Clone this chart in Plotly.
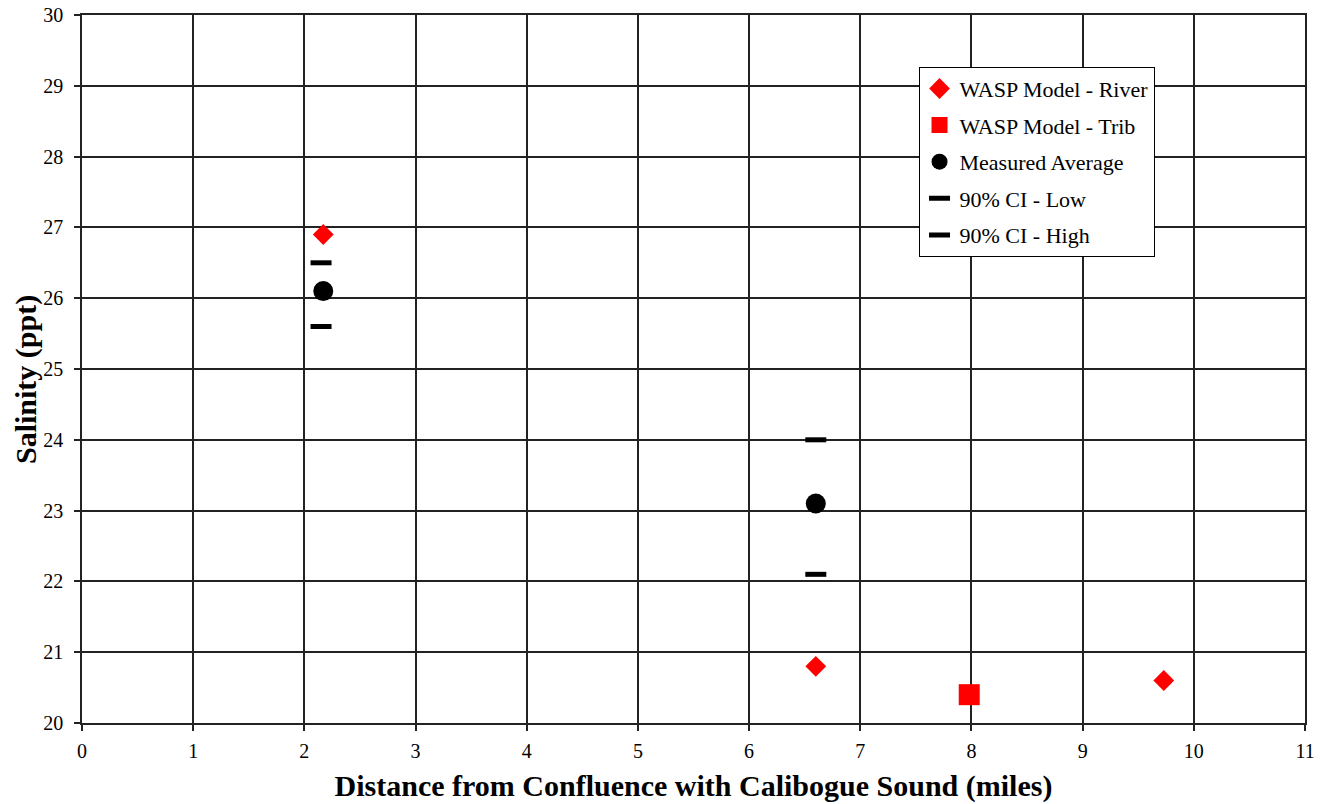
import plotly.graph_objects as go

# Data
river_x = [2.17, 6.6, 9.73]
river_y = [26.9, 20.8, 20.6]
trib_x = [7.98]
trib_y = [20.4]
meas_x = [2.17, 6.6]
meas_y = [26.1, 23.1]
ci_low_x = [2.15, 6.6]
ci_low_y = [25.6, 22.1]
ci_high_x = [2.15, 6.6]
ci_high_y = [26.5, 24.0]

FONT = "Liberation Serif"

fig = go.Figure()
fig.add_trace(go.Scatter(x=river_x, y=river_y, mode="markers", name="WASP Model - River",
                         legendgroup="a",
                         marker=dict(symbol="diamond", size=16, color="#ff0000")))
fig.add_trace(go.Scatter(x=trib_x, y=trib_y, mode="markers", name="WASP Model - Trib",
                         legendgroup="b",
                         marker=dict(symbol="square", size=21, color="#ff0000")))
fig.add_trace(go.Scatter(x=meas_x, y=meas_y, mode="markers", name="Measured Average",
                         legendgroup="c",
                         marker=dict(symbol="circle", size=20, color="black")))
fig.add_trace(go.Scatter(x=ci_low_x, y=ci_low_y, mode="markers", name="90% CI - Low",
                         legendgroup="d",
                         marker=dict(symbol="line-ew", size=15, color="black",
                                     line=dict(width=5, color="black"))))
fig.add_trace(go.Scatter(x=ci_high_x, y=ci_high_y, mode="markers", name="90% CI - High",
                         legendgroup="e",
                         marker=dict(symbol="line-ew", size=15, color="black",
                                     line=dict(width=5, color="black"))))

axis_common = dict(showgrid=True, gridcolor="#222222", gridwidth=1.5,
                   showline=True, linecolor="#222222", linewidth=1.5, mirror=True,
                   ticks="outside", ticklen=6, tickcolor="#222222", tickwidth=1.5,
                   automargin=False,
                   zeroline=False, tickfont=dict(family=FONT, size=20, color="black"))

fig.update_xaxes(range=[0, 11], dtick=1, tick0=0, ticklabelstandoff=3,
                 title=dict(text="<b>Distance from Confluence with Calibogue Sound (miles)</b>",
                            font=dict(family=FONT, size=30, color="black"), standoff=14),
                 **axis_common)
fig.update_yaxes(range=[20, 30], dtick=1, tick0=20, ticklabelstandoff=7,
                 **axis_common)

fig.add_annotation(text="<b>Salinity (ppt)</b>", xref="paper", yref="paper",
                   x=0, y=0.5, xshift=-56, yshift=-11, textangle=-90,
                   showarrow=False, xanchor="center", yanchor="middle",
                   font=dict(family=FONT, size=30, color="black"))

fig.update_layout(
    width=1323, height=804,
    margin=dict(l=82, r=18, t=15, b=81),
    plot_bgcolor="white", paper_bgcolor="white",
    font=dict(family=FONT, color="black"),
    legend=dict(x=0.684, y=0.927, xanchor="left", yanchor="top",
                bgcolor="white", bordercolor="black", borderwidth=1,
                font=dict(family=FONT, size=22, color="black"),
                tracegroupgap=5),
)

fig.write_html("out.html")
